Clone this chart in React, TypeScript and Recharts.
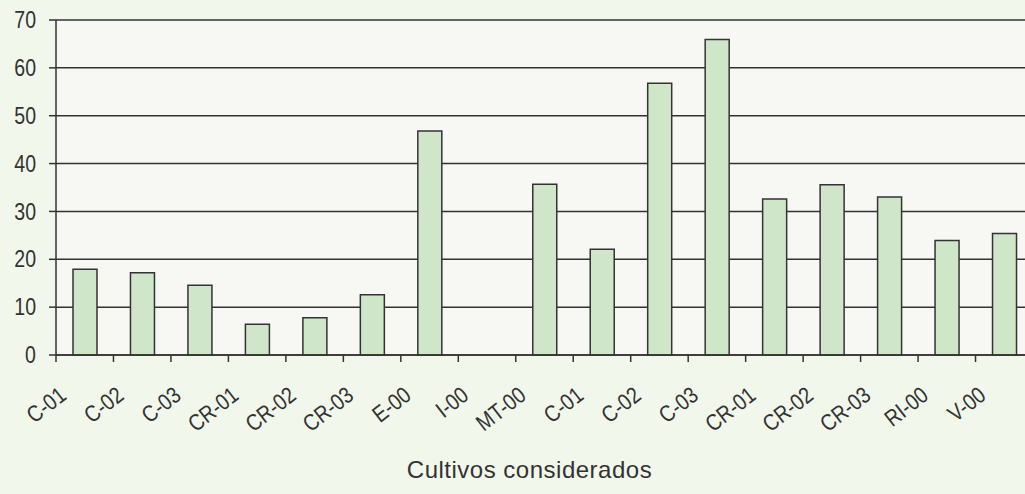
import React from "react";
import { BarChart, Bar, XAxis, YAxis, CartesianGrid } from "recharts";

const labels = [
  "C-01", "C-02", "C-03", "CR-01", "CR-02", "CR-03", "E-00", "I-00", "MT-00",
  "C-01", "C-02", "C-03", "CR-01", "CR-02", "CR-03", "RI-00", "V-00",
];
const values: (number | null)[] = [
  17.9, 17.2, 14.6, 6.4, 7.8, 12.6, 46.8, null, 35.7,
  22.1, 56.8, 65.9, 32.6, 35.6, 33.0, 23.9, 25.4,
];
const yTicks = [0, 10, 20, 30, 40, 50, 60, 70];
const xTitle = "Cultivos considerados";

const data = labels.map((label, i) => ({ idx: i, label, value: values[i] }));

const W = 1033;
const H = 494;
const Y_W = 56;
const X_H = 139;
const STEP = (W - Y_W) / labels.length;
const INK = "#333333";
const FONT = "'Liberation Sans', Arial, sans-serif";
// the source uses a condensed sans; squeeze Liberation Sans horizontally
const SQUEEZE = 0.85;

function XTick(props: any) {
  const { x, y, payload } = props;
  const label = labels[payload.value] ?? "";
  const px = x - 17;
  const py = y + 43;
  return (
    <g>
      <line x1={x - STEP / 2} x2={x - STEP / 2} y1={y} y2={y + 7} stroke={INK} strokeWidth={1.5} />
      <text
        x={0}
        y={0}
        transform={`translate(${px},${py}) rotate(-38) scale(${SQUEEZE},1)`}
        textAnchor="end"
        fontSize={23}
        fontFamily={FONT}
        fill={INK}
      >
        {label}
      </text>
    </g>
  );
}

function YTick(props: any) {
  const { x, y, payload } = props;
  return (
    <text
      x={0}
      y={0}
      dy="0.355em"
      transform={`translate(${x},${y}) scale(${SQUEEZE},1)`}
      textAnchor="end"
      fontSize={23}
      fontFamily={FONT}
      fill={INK}
    >
      {payload.value}
    </text>
  );
}

function AxisTitle(props: any) {
  const vb = props.viewBox ?? { x: Y_W, width: W - Y_W };
  return (
    <text
      x={vb.x + vb.width / 2 - 15}
      y={478}
      textAnchor="middle"
      fontSize={24}
      letterSpacing={0.5}
      fontFamily={FONT}
      fill={INK}
    >
      {xTitle}
    </text>
  );
}

export default function App() {
  return (
    <div
      style={{
        position: "absolute",
        left: 0,
        top: 0,
        width: 1025,
        height: 494,
        overflow: "hidden",
        background: "#f2f7ec",
      }}
    >
      <BarChart
        width={W}
        height={H}
        data={data}
        margin={{ top: 20, right: 0, left: 0, bottom: 0 }}
        barSize={24}
      >
        <CartesianGrid
          vertical={false}
          stroke={INK}
          strokeWidth={1.5}
          fill="#f7f7f4"
          fillOpacity={1}
        />
        <XAxis
          dataKey="idx"
          type="category"
          height={X_H}
          interval={0}
          tickLine={false}
          tickSize={0}
          tickMargin={0}
          axisLine={{ stroke: INK, strokeWidth: 1.5 }}
          tick={<XTick />}
          label={<AxisTitle />}
        />
        <YAxis
          width={Y_W}
          domain={[0, 70]}
          ticks={yTicks}
          interval={0}
          tickSize={7}
          tickMargin={13}
          axisLine={{ stroke: INK, strokeWidth: 1.5 }}
          tickLine={{ stroke: INK, strokeWidth: 1.5 }}
          tick={<YTick />}
        />
        <Bar
          dataKey="value"
          fill="#cfe7c8"
          stroke={INK}
          strokeWidth={1.5}
          isAnimationActive={false}
        />
      </BarChart>
    </div>
  );
}
